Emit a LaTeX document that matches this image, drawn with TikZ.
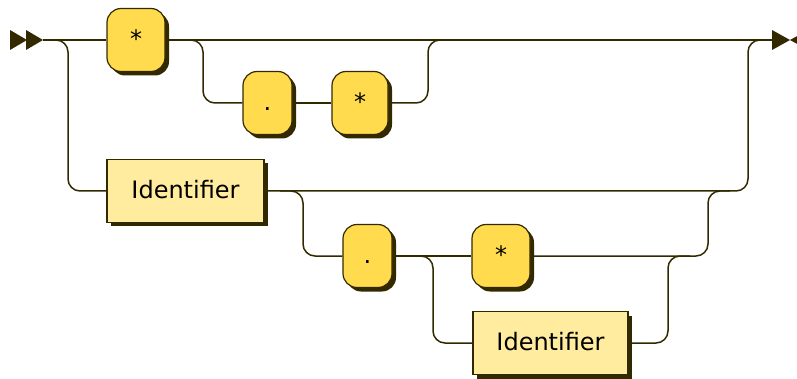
\documentclass[tikz,border=0pt]{standalone}
\usepackage{fontspec}
\setmainfont{DejaVu Sans}
\usetikzlibrary{shadows}
\definecolor{rrline}{HTML}{332900}
\definecolor{rrterm}{HTML}{FFDB4D}
\definecolor{rrnont}{HTML}{FFEC9E}
\begin{document}
\begin{tikzpicture}[x=1pt,y=-1pt,
  conn/.style={draw=rrline, line width=1.5pt},
  rc/.style={rounded corners=12pt},
  boxbase/.style={draw=rrline, line width=1.2pt, inner sep=0pt,
    text height=17pt, text depth=2.5pt, font=\fontsize{24}{28}\selectfont,
    drop shadow={shadow xshift=4pt, shadow yshift=-4pt, fill=rrline, opacity=1}},
  term/.style={boxbase, fill=rrterm, rounded corners=14pt, minimum height=63pt},
  nont/.style={boxbase, fill=rrnont, minimum height=63pt},
  marker/.style={fill=rrline}]
\useasboundingbox (0,0) rectangle (797,379);
% nodes
\node[term, minimum width=58pt] (star1) at (136,40) {*};
\node[term, minimum width=49pt] (dot1) at (267.5,103) {.};
\node[term, minimum width=56pt] (star2) at (360,103) {*};
\node[nont, minimum width=157pt] (id1) at (185.5,191) {Identifier};
\node[term, minimum width=49pt] (dot2) at (367.5,256) {.};
\node[term, minimum width=58pt] (star3) at (501,256) {*};
\node[nont, minimum width=155pt] (id2) at (550.5,343) {Identifier};
% coordinates
\coordinate (start) at (43,40);
\coordinate (end) at (772,40);
\coordinate (b1) at (178,40);
\coordinate (j1) at (445,40);
\coordinate (j2) at (765,40);
\coordinate (b2) at (280,191);
\coordinate (j3) at (730,191);
\coordinate (b3) at (410,256);
\coordinate (j4) at (690,256);
% connectors
\draw[conn] (start) -- (star1.west);
\draw[conn] (star1.east) -- (end);
\draw[conn, rc] (start) -- (68,40) -- (68,191) -- (id1.west);
\draw[conn, rc] (b1) -- (203,40) -- (203,103) -- (dot1.west);
\draw[conn] (dot1.east) -- (star2.west);
\draw[conn, rc] (star2.east) -- (428,103) -- (428,40) -- (j1);
\draw[conn, rc] (id1.east) -- (748,191) -- (748,40) -- (j2);
\draw[conn, rc] (b2) -- (303,191) -- (303,256) -- (dot2.west);
\draw[conn] (dot2.east) -- (star3.west);
\draw[conn, rc] (star3.east) -- (708,256) -- (708,191) -- (j3);
\draw[conn, rc] (b3) -- (433,256) -- (433,343) -- (id2.west);
\draw[conn, rc] (id2.east) -- (668,343) -- (668,256) -- (j4);
% start / end markers
\fill[marker] (10,30) -- (27,40) -- (10,50) -- cycle;
\fill[marker] (26,30) -- (43,40) -- (26,50) -- cycle;
\fill[marker] (772,30) -- (790,40) -- (772,50) -- cycle;
\fill[marker] (808,30) -- (790,40) -- (808,50) -- cycle;
\end{tikzpicture}
\end{document}
